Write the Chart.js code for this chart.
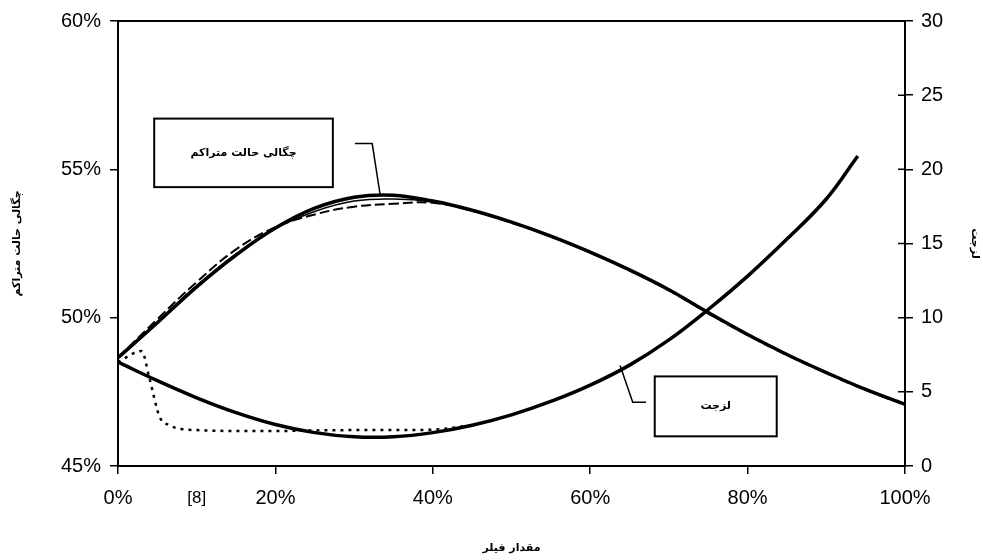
<!DOCTYPE html>
<html><head><meta charset="utf-8">
<script src="https://cdn.jsdelivr.net/npm/chart.js@4.4.0/dist/chart.umd.min.js"></script>
<style>html,body{margin:0;padding:0;background:#fff}#wrap{width:983px;height:560px;position:relative}</style>
</head><body><div id="wrap"><canvas id="c" width="983" height="560"></canvas></div>
<script>
// ---- data ----
const xTicks = [0, 20, 40, 60, 80, 100];
const leftTicks = [45, 50, 55, 60];
const rightTicks = [0, 5, 10, 15, 20, 25, 30];

const xDensity = [0,5,10,15,20,25,30,35,40,45,50,55,60,65,70,75,80,85,90,95,100];
const densitySolid  = [48.65,49.83,51.04,52.11,53.02,53.69,54.06,54.13,53.93,53.62,53.22,52.75,52.21,51.61,50.94,50.17,49.43,48.76,48.15,47.58,47.08];
const densityThin   = [48.65,49.86,51.08,52.15,53.00,53.58,53.93,54.00,53.90,53.62,53.22,52.75,52.21,51.61,50.94,50.17,49.43,48.76,48.15,47.58,47.08];
const densityDashed = [48.65,49.95,51.20,52.30,53.05,53.48,53.74,53.84,53.87,53.60,53.20,52.73,52.19,51.59,50.92,50.15,49.41,48.74,48.13,47.56,47.06];

const xVisc = [0,5,10,15,20,25,30,35,40,45,50,55,60,65,70,75,80,85,90,94];
const viscSolid = [7.0,5.75,4.6,3.6,2.8,2.25,1.97,1.97,2.25,2.75,3.45,4.35,5.45,6.8,8.5,10.55,12.8,15.3,18.0,20.9];

const xViscDot = [0,3,4,5.3,6.5,8,10,15,20,25,30,35,40,45];
const viscDotted = [7.0,7.75,5.9,3.3,2.75,2.5,2.42,2.36,2.36,2.4,2.42,2.42,2.45,2.76];

const titleLeft = 'چگالی حالت متراکم';
const titleRight = 'لزجت';
const titleX = 'مقدار فیلر';
const noteRef = '[8]';

// annotation boxes in data coordinates (x %, left axis %)
const boxDensity = {x0:4.6, x1:27.3, y0:56.71, y1:54.40, text:'چگالی حالت متراکم'};
const leaderDensity = [[30.1,55.87],[32.3,55.87],[33.3,54.16]];
const boxVisc = {x0:68.2, x1:83.7, y0:48.02, y1:46.0, text:'لزجت'};
const leaderVisc = [[63.8,48.39],[65.4,47.15],[67.1,47.15]];

const pts = (xs, ys) => xs.map((x,i)=>({x, y: ys[i]}));
const tickFont = {family:'"Liberation Sans", Arial, sans-serif', size:20};
const faFont = {family:'"DejaVu Sans", sans-serif', size:11, weight:'bold'};

const overlay = {
  id:'overlay',
  afterDraw(chart){
    const {ctx, chartArea:a, scales} = chart;
    const xs = scales.x, ys = scales.y, y1 = scales.y1;
    ctx.save();
    ctx.strokeStyle = '#000';
    ctx.lineWidth = 2;
    ctx.strokeRect(a.left, a.top, a.right - a.left, a.bottom - a.top);
    // inward part of right ticks
    ctx.beginPath();
    rightTicks.forEach(v=>{ const p = y1.getPixelForValue(v); ctx.moveTo(a.right-7,p); ctx.lineTo(a.right,p); });
    ctx.lineWidth = 1.5; ctx.stroke();
    // boxes
    const drawBox = (b)=>{
      const X0 = xs.getPixelForValue(b.x0), X1 = xs.getPixelForValue(b.x1);
      const Y0 = ys.getPixelForValue(b.y0), Y1 = ys.getPixelForValue(b.y1);
      ctx.fillStyle = '#fff';
      ctx.fillRect(X0, Y0, X1-X0, Y1-Y0);
      ctx.lineWidth = 2; ctx.strokeStyle = '#000';
      ctx.strokeRect(X0, Y0, X1-X0, Y1-Y0);
      ctx.fillStyle = '#000';
      ctx.font = 'bold 11px "DejaVu Sans", sans-serif';
      ctx.textAlign = 'center'; ctx.textBaseline = 'middle';
      ctx.fillText(b.text, (X0+X1)/2, (Y0+Y1)/2);
    };
    const drawLeader = (l)=>{
      ctx.beginPath();
      l.forEach((p,i)=>{ const X = xs.getPixelForValue(p[0]), Y = ys.getPixelForValue(p[1]); i?ctx.lineTo(X,Y):ctx.moveTo(X,Y); });
      ctx.lineWidth = 1.5; ctx.stroke();
    };
    drawBox(boxDensity); drawBox(boxVisc);
    drawLeader(leaderDensity); drawLeader(leaderVisc);
    // reference note
    ctx.font = '17px "Liberation Sans", Arial, sans-serif';
    ctx.textAlign = 'center'; ctx.textBaseline = 'middle';
    ctx.fillText(noteRef, xs.getPixelForValue(10), a.bottom + 32);
    ctx.restore();
  }
};

new Chart(document.getElementById('c'), {
  type:'line',
  data:{datasets:[
    {data:pts(xDensity,densityDashed), yAxisID:'y', borderColor:'#000', borderWidth:2, borderDash:[10,4], pointRadius:0, tension:0.4, fill:false},
    {data:pts(xDensity,densityThin), yAxisID:'y', borderColor:'#000', borderWidth:1.5, pointRadius:0, tension:0.4, fill:false},
    {data:pts(xDensity,densitySolid), yAxisID:'y', borderColor:'#000', borderWidth:3.5, pointRadius:0, tension:0.4, fill:false},
    {data:pts(xViscDot,viscDotted), yAxisID:'y1', borderColor:'#000', borderWidth:2.5, borderDash:[3,5], pointRadius:0, cubicInterpolationMode:'monotone', fill:false},
    {data:pts(xVisc,viscSolid), yAxisID:'y1', borderColor:'#000', borderWidth:3.5, pointRadius:0, tension:0.4, fill:false}
  ]},
  options:{
    responsive:false, devicePixelRatio:1, animation:false,
    layout:{padding:{top:20, left:0, right:0, bottom:0}},
    plugins:{legend:{display:false}, tooltip:{enabled:false}},
    scales:{
      x:{type:'linear', min:0, max:100,
        afterBuildTicks(s){ s.ticks = xTicks.map(v=>({value:v})); },
        ticks:{callback:v=>v+'%', color:'#000', font:tickFont, padding:12, maxRotation:0},
        grid:{drawOnChartArea:false, color:'#000', tickLength:8, lineWidth:1.5},
        border:{display:true, color:'#000', width:2},
        title:{display:true, text:titleX, color:'#000', font:faFont, padding:{top:0,bottom:5}},
        afterFit(s){ s.height = 94; }
      },
      y:{position:'left', min:45, max:60,
        afterBuildTicks(s){ s.ticks = leftTicks.map(v=>({value:v})); },
        ticks:{callback:v=>v+'%', color:'#000', font:tickFont, padding:9},
        grid:{drawOnChartArea:false, color:'#000', tickLength:8, lineWidth:1.5},
        border:{display:true, color:'#000', width:2},
        title:{display:true, text:titleLeft, color:'#000', font:faFont, padding:{top:11,bottom:0}},
        afterFit(s){ s.width = 118; }
      },
      y1:{position:'right', min:0, max:30,
        afterBuildTicks(s){ s.ticks = rightTicks.map(v=>({value:v})); },
        ticks:{color:'#000', font:tickFont, padding:8},
        grid:{drawOnChartArea:false, color:'#000', tickLength:8, lineWidth:1.5},
        border:{display:true, color:'#000', width:2},
        title:{display:true, text:titleRight, color:'#000', font:faFont, padding:{top:2,bottom:0}},
        afterFit(s){ s.width = 78; }
      }
    }
  },
  plugins:[overlay]
});
</script></body></html>
